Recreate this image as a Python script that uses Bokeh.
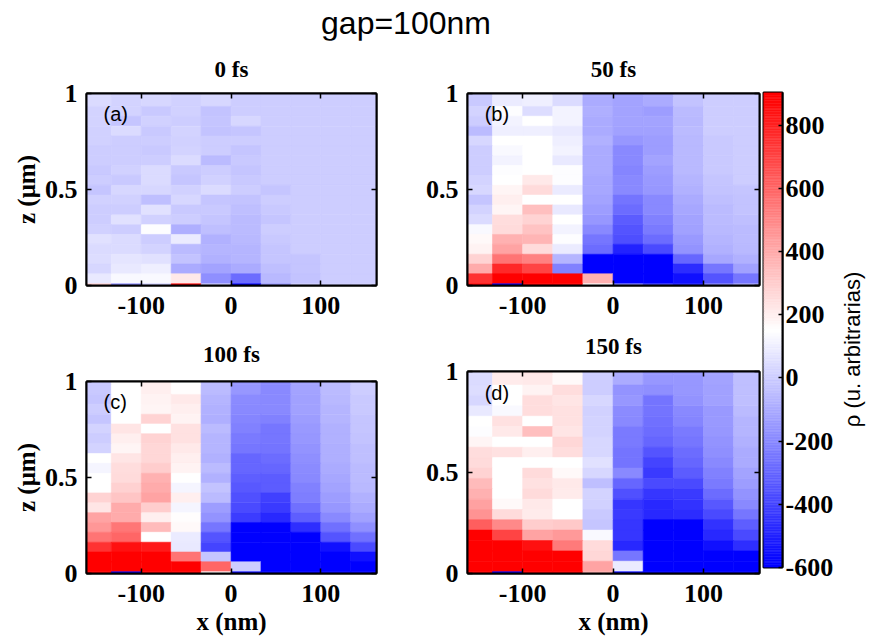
import numpy as np
from bokeh.plotting import figure
from bokeh.models import (ColumnDataSource, LinearAxis, FixedTicker, Range1d, Div, Label,
                          CustomLabelingPolicy)
from bokeh.layouts import row, column
from bokeh.transform import linear_cmap
from bokeh.embed import file_html
from bokeh.resources import INLINE

# ---------------- data ----------------
# cell centres of the simulation grid
x_centers = [-150.0, -116.7, -83.3, -50.0, -16.7, 16.7, 50.0, 83.3, 116.7, 150.0]
z_centers = [-0.017, 0.035, 0.086, 0.137, 0.189, 0.240, 0.291, 0.342, 0.394, 0.445,
             0.496, 0.548, 0.599, 0.650, 0.702, 0.753, 0.804, 0.856, 0.907, 0.958, 1.010]

# charge density rho (arbitrary units); rows listed from top (z=1) to bottom (z=0)
rho_0fs = [
    [40, 20, 30, 10, 30, 0, 0, 0, 0, 0],
    [40, 20, 30, 10, 30, 0, 0, 0, 0, 0],
    [20, 20, -10, 10, -30, 0, 0, 0, 0, 0],
    [20, -20, 10, 0, -20, 30, 0, 0, 0, 0],
    [10, 40, -10, 20, -30, -20, 0, 0, 0, 0],
    [10, 0, 0, 10, 0, 0, 0, 0, 0, 0],
    [0, 0, -10, 20, 0, -20, 0, 0, 0, 0],
    [0, 0, 0, 40, -50, -10, 0, 0, 0, 0],
    [-10, 10, 40, -10, 0, -20, 0, 0, 0, 0],
    [0, -10, 40, -20, 10, -10, 0, 0, 0, 0],
    [-20, 30, 30, 10, 40, 0, -20, 0, 0, 0],
    [10, 10, -40, 30, -20, -30, 0, 0, 0, 0],
    [0, 0, 60, -10, -10, -40, -10, 0, 0, 0],
    [0, 60, 10, 0, -20, -50, -20, 0, 0, 0],
    [10, 0, 140, -90, -40, -50, 0, 0, 0, 0],
    [60, 40, 0, 90, -80, -60, -10, 0, 0, 0],
    [40, 40, 20, -50, -70, -70, -20, 0, 0, 0],
    [50, 70, 60, -30, -80, -70, -20, -20, 0, 0],
    [30, 80, 100, -100, -120, -100, -40, -20, 0, 0],
    [80, 130, 130, 220, -180, -280, -60, -30, 0, 0],
    [300, -200, 0, 900, 0, -600, -150, 0, 0, 0],
]
rho_50fs = [
    [-10, 90, 100, 40, -100, -120, -100, -30, 0, 0],
    [-10, 90, 100, 40, -100, -120, -100, -30, 0, 0],
    [20, 140, 50, 110, -90, -120, -140, -50, 0, 0],
    [0, 110, 150, 110, -100, -120, -120, -60, 0, 0],
    [-50, 100, 100, 80, -100, -130, -130, -50, 0, 0],
    [30, 150, 150, 100, -80, -160, -140, -60, -10, 0],
    [0, 130, 150, 110, -100, -200, -140, -60, -10, 0],
    [0, 110, 150, 80, -100, -200, -120, -60, -10, 0],
    [0, 140, 150, 140, -100, -210, -140, -60, -10, 0],
    [20, 150, 220, 140, -110, -200, -150, -70, -20, 0],
    [30, 180, 260, 90, -110, -200, -160, -80, -30, -20],
    [-20, 200, 150, 150, -120, -260, -200, -100, -40, -30],
    [20, 180, 340, 80, -140, -280, -200, -110, -50, -30],
    [40, 250, 280, 150, -160, -330, -220, -120, -50, -40],
    [130, 260, 330, 110, -200, -350, -240, -130, -60, -50],
    [170, 380, 370, 140, -250, -370, -280, -150, -70, -50],
    [190, 420, 260, 90, -280, -500, -380, -170, -80, -60],
    [280, 560, 520, -70, -600, -600, -600, -300, -110, -80],
    [400, 780, 700, -220, -600, -600, -600, -470, -250, -130],
    [750, 900, 900, 900, 380, -600, -600, -550, -350, -250],
    [900, -600, 900, 900, 150, -200, -400, -500, -200, -100],
]
rho_100fs = [
    [-10, 150, 200, 150, -50, -160, -200, -120, -50, 0],
    [-10, 150, 200, 160, -50, -160, -200, -120, -50, 0],
    [-20, 150, 190, 220, -70, -190, -200, -130, -60, -10],
    [0, 150, 180, 200, -80, -200, -200, -130, -70, -10],
    [-20, 150, 280, 190, -90, -210, -220, -140, -70, -20],
    [20, 230, 150, 240, -50, -220, -250, -150, -80, -20],
    [0, 200, 280, 240, -70, -240, -250, -160, -80, -30],
    [20, 180, 270, 220, -70, -250, -260, -170, -90, -40],
    [150, 230, 270, 200, -80, -300, -280, -180, -90, -40],
    [120, 250, 300, 190, -50, -300, -300, -190, -100, -50],
    [150, 260, 380, 150, -80, -320, -330, -200, -110, -50],
    [150, 290, 400, 120, -30, -340, -330, -220, -120, -60],
    [280, 320, 420, 200, -50, -360, -410, -230, -140, -80],
    [230, 400, 300, 120, -140, -380, -430, -270, -160, -100],
    [420, 400, 200, 160, -170, -420, -480, -320, -200, -130],
    [460, 550, 350, 170, -250, -600, -600, -460, -270, -180],
    [560, 600, 150, 90, -350, -600, -600, -600, -350, -270],
    [750, 850, 820, 80, -400, -600, -600, -600, -550, -380],
    [900, 900, 900, 560, -20, -600, -600, -600, -600, -550],
    [900, 900, 900, 900, 600, 0, -600, -600, -600, -600],
    [900, -600, 900, 900, 160, -600, -600, -600, -600, -600],
]
rho_150fs = [
    [40, 210, 230, 170, 0, -100, -160, -160, -120, -40],
    [40, 210, 220, 170, 0, -100, -160, -160, -120, -40],
    [50, 150, 190, 250, 0, -170, -180, -160, -130, -40],
    [30, 150, 250, 230, 30, -160, -260, -170, -130, -40],
    [80, 130, 250, 240, 10, -190, -260, -200, -150, -50],
    [150, 240, 150, 240, 20, -200, -270, -210, -150, -70],
    [140, 220, 340, 230, 20, -240, -280, -240, -160, -70],
    [180, 150, 150, 270, 30, -240, -300, -250, -170, -80],
    [250, 240, 200, 250, 30, -260, -350, -280, -180, -100],
    [260, 150, 150, 150, 60, -260, -400, -300, -200, -100],
    [280, 150, 260, 170, 30, -200, -430, -330, -220, -120],
    [350, 150, 240, 220, -40, -300, -380, -380, -240, -140],
    [380, 150, 260, 210, 20, -360, -440, -430, -280, -170],
    [430, 170, 220, 150, 10, -440, -480, -450, -340, -200],
    [470, 260, 210, 150, -10, -430, -480, -470, -380, -250],
    [620, 500, 300, 310, -20, -440, -600, -600, -450, -320],
    [900, 700, 420, 450, 130, -440, -600, -600, -480, -380],
    [900, 900, 850, 540, 260, -480, -600, -600, -550, -460],
    [900, 900, 900, 900, 270, -250, -600, -600, -600, -600],
    [900, 900, 900, 900, 420, 90, -600, -600, -600, -600],
    [900, -600, 900, 900, 380, -600, -600, -600, -600, -600],
]

panel_titles = ["0 fs", "50 fs", "100 fs", "150 fs"]
panel_tags = ["(a)", "(b)", "(c)", "(d)"]
x_ticks = [-100, 0, 100]
x_tick_labels = ["-100", "0", "100"]
z_ticks = [0, 0.5, 1]
z_tick_labels = ["0", "0.5", "1"]
cb_ticks = [-600, -400, -200, 0, 200, 400, 600, 800]
cb_tick_labels = ["-600", "-400", "-200", "0", "200", "400", "600", "800"]
rho_low, rho_high = -600, 900

# ---------------- style ----------------
def make_palette():
    pal = []
    for i in range(128):
        t = i / 127.0
        c = int(round(255 * t))
        pal.append("#%02x%02x%02x" % (c, c, 255))
    for i in range(128):
        t = i / 127.0
        c = int(round(255 * (1 - t)))
        pal.append("#%02x%02x%02x" % (255, c, c))
    return pal

PALETTE = make_palette()
SERIF = "Liberation Serif"
SANS = "Liberation Sans"
CELL_W = 33.34
CELL_H = 0.0516
NO_LABELS = "for (const i of indices) { indices.unset(i) }\nreturn indices"


def style_axis(ax, ticks, labels, show_labels=True):
    ax.ticker = FixedTicker(ticks=ticks)
    ax.major_label_overrides = {t: l for t, l in zip(ticks, labels)}
    ax.minor_tick_line_color = None
    ax.major_tick_in = 5
    ax.major_tick_out = 0
    ax.major_tick_line_width = 1.5
    ax.major_tick_line_color = "black"
    ax.axis_line_width = 2
    ax.axis_line_color = "black"
    ax.major_label_text_font = SERIF
    ax.major_label_text_font_style = "bold"
    ax.major_label_text_font_size = "26px"
    ax.major_label_text_color = "black"
    ax.major_label_standoff = 9
    ax.axis_label_text_font = SERIF
    ax.axis_label_text_font_style = "bold"
    ax.axis_label_text_font_size = "25px"
    ax.axis_label_text_color = "black"
    ax.axis_label_standoff = 2
    if not show_labels:
        ax.major_label_policy = CustomLabelingPolicy(code=NO_LABELS)
        ax.major_label_text_font_size = "0px"
        ax.major_label_standoff = 0


def panel(rows_top_down, title, tag, w, h, bl, br, bt, bb, zlabel, xlabel, title_gap):
    xs, zs, vs = [], [], []
    n = len(rows_top_down)
    for i, r in enumerate(rows_top_down):
        k = n - 1 - i
        for j, v in enumerate(r):
            xs.append(x_centers[j])
            zs.append(z_centers[k])
            vs.append(v)
    src = ColumnDataSource(dict(x=xs, z=zs, v=vs))
    p = figure(width=w, height=h, x_range=Range1d(-161, 162), y_range=Range1d(0, 1),
               output_backend="svg", toolbar_location=None,
               min_border_left=bl, min_border_right=br, min_border_top=bt, min_border_bottom=bb)
    cmap = linear_cmap("v", PALETTE, rho_low, rho_high)
    p.rect("x", "z", width=CELL_W, height=CELL_H, source=src,
           fill_color=cmap, line_color=cmap, line_width=0.6)
    p.grid.visible = False
    p.outline_line_color = "black"
    p.outline_line_width = 2
    p.outline_line_alpha = 1
    p.background_fill_color = "white"
    p.border_fill_color = "white"
    style_axis(p.xaxis[0], x_ticks, x_tick_labels)
    p.xaxis[0].major_label_standoff = 11
    style_axis(p.yaxis[0], z_ticks, z_tick_labels)
    if zlabel:
        p.yaxis[0].axis_label = "z (\u03bcm)"
    if xlabel:
        p.xaxis[0].axis_label = "x (nm)"
        p.xaxis[0].axis_label_standoff = 3
    # box ticks on top; the panel title sits on this top axis
    top = LinearAxis()
    style_axis(top, x_ticks, x_tick_labels, show_labels=False)
    top.axis_label = title
    top.axis_label_text_font_size = "23px"
    top.axis_label_standoff = title_gap
    p.add_layout(top, "above")
    right = LinearAxis()
    style_axis(right, z_ticks, z_tick_labels, show_labels=False)
    p.add_layout(right, "right")
    p.add_layout(Label(x=-142, y=0.895, text=tag, text_font=SANS, text_font_size="20px",
                       text_baseline="middle", text_align="left", text_color="black"))
    return p


fa = panel(rho_0fs, panel_titles[0], panel_tags[0], 386, 285, 86, 10, 53, 40, True, False, 12)
fb = panel(rho_50fs, panel_titles[1], panel_tags[1], 375, 285, 81, 2, 53, 40, False, False, 12)
fc = panel(rho_100fs, panel_titles[2], panel_tags[2], 386, 312, 86, 10, 56, 64, True, True, 15)
fd = panel(rho_150fs, panel_titles[3], panel_tags[3], 375, 312, 81, 2, 46, 64, False, True, 13)

# ---------------- colour bar ----------------
lv = np.linspace(rho_low, 903, 302)
cb_src = ColumnDataSource(dict(bottom=lv[:-1], top=lv[1:], mid=(lv[:-1] + lv[1:]) / 2))
fcb = figure(width=79, height=597, x_range=Range1d(0, 1), y_range=Range1d(rho_low, 903),
             output_backend="svg", toolbar_location=None, x_axis_location=None,
             y_axis_location="right", min_border_left=2, min_border_right=58,
             min_border_top=52, min_border_bottom=70)
cbmap = linear_cmap("mid", PALETTE, rho_low, rho_high)
fcb.quad(left=0, right=1, bottom="bottom", top="top", source=cb_src,
         fill_color=cbmap, line_color=cbmap, line_width=0.5)
fcb.grid.visible = False
fcb.outline_line_color = "black"
fcb.outline_line_width = 2
fcb.outline_line_alpha = 1
style_axis(fcb.yaxis[0], cb_ticks, cb_tick_labels)
fcb.yaxis[0].major_tick_in = 4
fcb.yaxis[0].major_label_standoff = 3

# colour-bar caption in its own narrow panel
flab = figure(width=30, height=597, x_range=Range1d(0, 1), y_range=Range1d(0, 1),
              output_backend="svg", toolbar_location=None, x_axis_location=None,
              y_axis_location=None, min_border=0)
flab.outline_line_color = None
flab.grid.visible = False
flab.add_layout(Label(x=0.4, y=0.459, text="\u03c1 (u. arbitrarias)", angle=90, angle_units="deg",
                      text_font=SANS, text_font_size="22px", text_align="center",
                      text_baseline="middle", text_color="black"))

title_div = Div(text='<div style="width:812px;text-align:center;font-family:\'Liberation Sans\',Arial,sans-serif;'
                     'font-size:32px;line-height:32px;padding-top:7px;color:black;">gap=100nm</div>',
                width=870, height=40, margin=(0, 0, 0, 0))

layout = column(title_div,
                row(column(fa, fc), column(fb, fd), fcb, flab))

open("out.html", "w").write(file_html(layout, INLINE))
